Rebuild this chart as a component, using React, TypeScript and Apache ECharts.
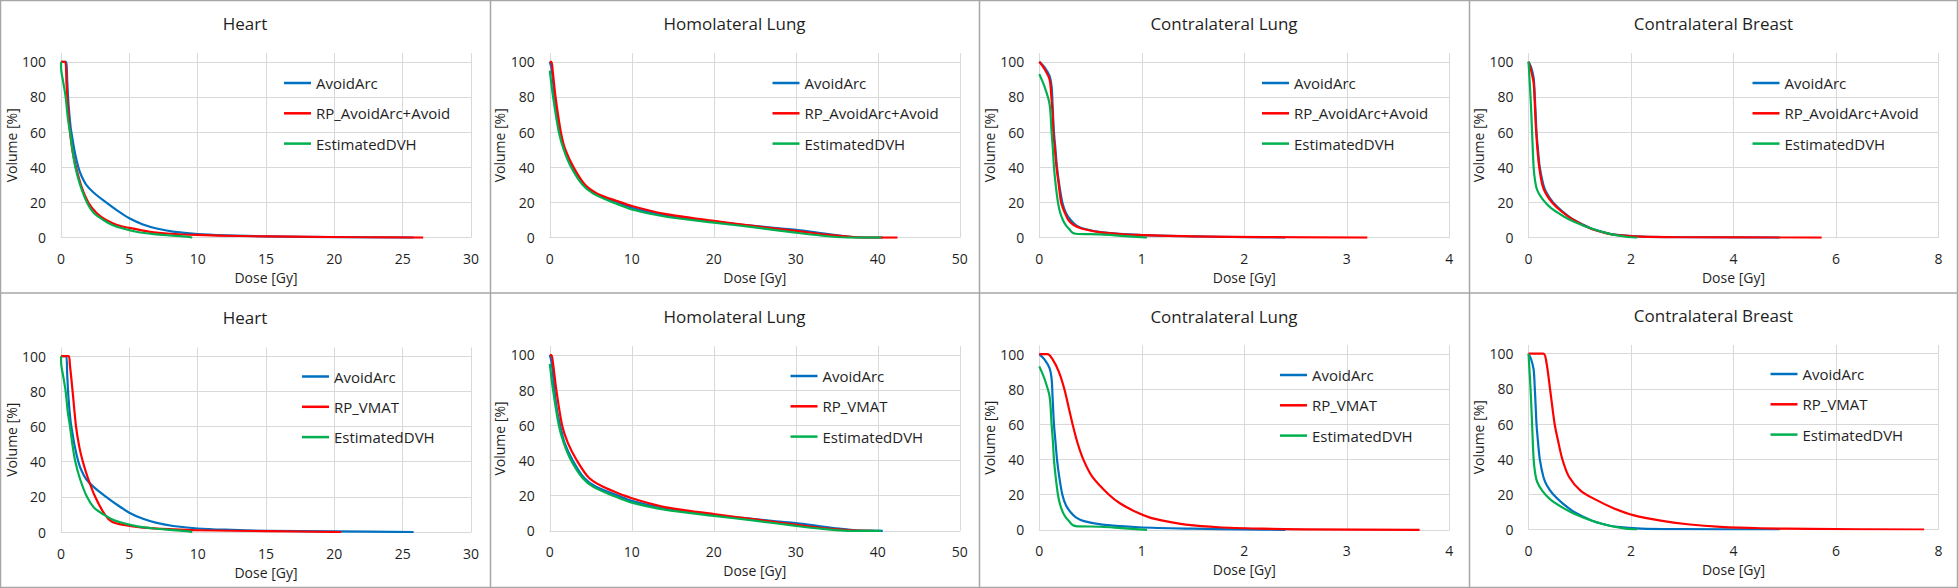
import React, { useEffect, useRef } from "react";
import * as echarts from "echarts";

// ---------- data ----------
const organTitles = ["Heart", "Homolateral Lung", "Contralateral Lung", "Contralateral Breast"];
const doseMax = [30, 50, 4, 8];
const doseStep = [5, 10, 1, 2];
const topNames = ["AvoidArc", "RP_AvoidArc+Avoid", "EstimatedDVH"];
const bottomNames = ["AvoidArc", "RP_VMAT", "EstimatedDVH"];
const xAxisTitle = "Dose [Gy]";
const yAxisTitle = "Volume [%]";

// Heart
const heartAvoidArc = [[0, 100], [0.38, 100], [0.45, 90], [0.55, 76], [0.7, 63], [0.8, 58], [1.0, 49], [1.27, 40], [1.5, 35], [1.85, 30], [2.4, 25.5], [3.3, 20], [4.1, 15.5], [5.0, 11], [6.0, 7.5], [7, 5.2], [8.2, 3.4], [10, 2], [12, 1.3], [15, 0.7], [20, 0.3], [25.8, 0]];
const heartRPAvoid = [[0, 100], [0.3, 100], [0.4, 88], [0.5, 75], [0.66, 60], [0.85, 49], [1.1, 40], [1.5, 29], [2.0, 20], [2.6, 14], [3.3, 10], [4.1, 7.2], [5.0, 5.5], [6.5, 3.3], [8, 2.2], [10, 1.5], [13, 0.9], [17, 0.5], [22, 0.2], [26.5, 0]];
const heartEstimated = [[0, 100], [0.02, 95], [0.15, 89], [0.34, 80], [0.5, 68], [0.66, 60], [0.85, 49], [1.05, 40], [1.4, 30], [1.9, 20], [2.4, 14], [3.1, 10], [3.8, 7], [4.6, 5], [5.6, 3.2], [6.8, 2], [8, 1.2], [9.2, 0.5], [9.6, 0]];
const heartRPVMAT = [[0, 100], [0.55, 100], [0.65, 95], [0.85, 80], [1.1, 60], [1.35, 48], [1.6, 40], [2.0, 30], [2.5, 20], [3.2, 10], [3.7, 6], [4.6, 4], [6, 2.5], [8.2, 1.5], [10, 1], [15, 0.5], [20.5, 0]];

// Homolateral lung
const homoAvoidArc = [[0, 100], [0.25, 95], [0.57, 80], [0.9, 68], [1.26, 60], [1.8, 50], [2.8, 40], [4.2, 30], [5.65, 25], [8.3, 20], [10, 17], [14.2, 12.5], [20, 9], [23.5, 7.3], [27.6, 5.4], [30, 4.4], [31.7, 3.4], [35.3, 1.2], [37.4, 0.2], [40.6, 0]];
const homoRPAvoid = [[0, 100], [0.2, 100], [0.35, 95], [0.7, 80], [1.35, 60], [1.9, 50], [2.9, 40], [4.3, 30], [5.8, 25], [8.4, 20.5], [10, 18], [14, 13.5], [20, 9.5], [25, 6.5], [30, 3.8], [34, 1.5], [37, 0.3], [40, 0], [42.4, 0]];
const homoEstimated = [[0, 95], [0.4, 80], [1.1, 60], [1.7, 50], [2.6, 40], [4, 30], [5.3, 25], [7.7, 20], [10, 16], [14, 12], [20, 8.5], [25, 5.8], [30, 2.8], [33, 1.2], [36.5, 0], [40.4, 0]];
const homoRPVMAT = [[0, 100], [0.2, 100], [0.4, 95], [0.8, 80], [1.5, 60], [2.2, 50], [3.3, 40], [4.8, 30], [6.5, 25], [9.1, 20], [10, 18.5], [14, 13.5], [20, 9.5], [25, 6.5], [30, 3.5], [34, 1.2], [37, 0.2], [39.5, 0]];

// Contralateral lung
const cLungAvoidArc = [[0, 100], [0.05, 97], [0.1, 92], [0.12, 86], [0.13, 75], [0.143, 60], [0.158, 50], [0.173, 40], [0.195, 30], [0.225, 20], [0.26, 14], [0.306, 10], [0.36, 7], [0.436, 5], [0.616, 3], [0.97, 1.5], [1.5, 0.7], [2, 0.3], [2.4, 0]];
const cLungRPAvoid = [[0, 100], [0.05, 96], [0.1, 90], [0.115, 82], [0.13, 70], [0.137, 60], [0.152, 50], [0.168, 40], [0.19, 30], [0.213, 20], [0.25, 14], [0.284, 10], [0.34, 7], [0.42, 5], [0.6, 3], [0.95, 1.5], [1.5, 0.7], [2.2, 0.3], [3.2, 0]];
const cLungEstimated = [[0, 93], [0.05, 86], [0.1, 76], [0.12, 60], [0.133, 50], [0.143, 40], [0.16, 30], [0.182, 20], [0.2, 15], [0.23, 10], [0.26, 7], [0.29, 5], [0.32, 3], [0.355, 2.2], [0.6, 1.8], [0.8, 1], [1.05, 0]];
const cLungRPVMAT = [[0, 100], [0.08, 100], [0.13, 97], [0.19, 90], [0.245, 80], [0.285, 70], [0.325, 60], [0.37, 50], [0.43, 40], [0.52, 30], [0.68, 20], [0.79, 15], [0.95, 10], [1.08, 7], [1.23, 5], [1.43, 3], [1.75, 1.5], [2.18, 0.7], [2.6, 0.3], [3.71, 0]];

// Contralateral breast
const breastAvoidArc = [[0, 100], [0.05, 97], [0.1, 91], [0.12, 82], [0.14, 70], [0.156, 60], [0.185, 50], [0.22, 40], [0.29, 30], [0.36, 25], [0.48, 20], [0.66, 15], [0.89, 10], [1.24, 5], [1.47, 3], [1.73, 1.5], [2.2, 0.5], [3, 0.2], [4.9, 0]];
const breastRPAvoid = [[0, 100], [0.05, 95], [0.1, 88], [0.12, 78], [0.14, 65], [0.15, 60], [0.175, 50], [0.21, 40], [0.27, 30], [0.34, 25], [0.46, 20], [0.64, 15], [0.88, 10], [1.22, 5], [1.45, 3], [1.7, 1.5], [2.2, 0.5], [3, 0.2], [5.72, 0]];
const breastEstimated = [[0, 100], [0.04, 80], [0.07, 60], [0.1, 40], [0.13, 32], [0.17, 27], [0.27, 22], [0.43, 17], [0.69, 12], [0.89, 9], [1.24, 5], [1.6, 2], [1.9, 0.5], [2.12, 0]];
const breastRPVMAT = [[0, 100], [0.29, 100], [0.35, 95], [0.42, 80], [0.51, 60], [0.58, 50], [0.66, 40], [0.79, 30], [1.02, 22], [1.31, 17], [1.67, 12], [2.06, 8], [2.58, 5], [3.1, 3], [3.75, 1.5], [4.53, 0.7], [5.5, 0.3], [7.72, 0]];

const avoidArcByOrgan = [heartAvoidArc, homoAvoidArc, cLungAvoidArc, breastAvoidArc];
const rpAvoidByOrgan = [heartRPAvoid, homoRPAvoid, cLungRPAvoid, breastRPAvoid];
const rpVmatByOrgan = [heartRPVMAT, homoRPVMAT, cLungRPVMAT, breastRPVMAT];
const estimatedByOrgan = [heartEstimated, homoEstimated, cLungEstimated, breastEstimated];

const colors = ["#0070C0", "#FF0000", "#00B050"];

// ---------- layout ----------
const PW = 1958 / 4;
const PH = 294;
const gridLeftRel = [61, 60.3, 60.3, 60];
const gridTopRel = [[53, 53, 53, 53], [53.4, 52.2, 51.3, 50.9]];
const legendLeftRel = [[284, 283, 283, 284], [302, 301, 301, 302]];
const legendTopRel = [[74, 74, 74, 74], [73.5, 73, 72, 71]];
const titleTopRel = [[15, 15, 15, 15], [14.5, 14, 13.5, 13]];
const FONT = "Open Sans";
const TEXT = "#1f1f1f";
const GRIDC = "#d9d9d9";

function buildOption() {
  const grid: any[] = [];
  const xAxis: any[] = [];
  const yAxis: any[] = [];
  const series: any[] = [];
  const legend: any[] = [];
  const title: any[] = [];
  const graphic: any[] = [];

  for (let r = 0; r < 2; r++) {
    for (let c = 0; c < 4; c++) {
      const i = r * 4 + c;
      const ox = c * PW;
      const oy = r * PH;
      const names = r === 0 ? topNames : bottomNames;
      grid.push({ left: ox + gridLeftRel[c], top: oy + gridTopRel[r][c], width: 410, height: 184.6, containLabel: false });
      xAxis.push({
        type: "value", gridIndex: i, min: 0, max: doseMax[c], interval: doseStep[c],
        name: xAxisTitle, nameLocation: "middle", nameGap: 33,
        nameTextStyle: { fontFamily: FONT, fontSize: 14, color: TEXT },
        axisLine: { show: true, lineStyle: { color: GRIDC, width: 1 } },
        axisTick: { show: false },
        axisLabel: { fontFamily: FONT, fontSize: 14, color: TEXT, margin: 14 },
        splitLine: { show: true, lineStyle: { color: GRIDC, width: 1 } },
      });
      yAxis.push({
        type: "value", gridIndex: i, min: 0, max: 105, interval: 20,
        name: yAxisTitle, nameLocation: "middle", nameGap: 38,
        nameTextStyle: { fontFamily: FONT, fontSize: 14, color: TEXT },
        axisLine: { show: false },
        axisTick: { show: false },
        axisLabel: { fontFamily: FONT, fontSize: 14, color: TEXT, margin: 15, showMaxLabel: false },
        splitLine: { show: true, showMaxLine: false, lineStyle: { color: GRIDC, width: 1 } },
      });
      const datasets = [avoidArcByOrgan[c], r === 0 ? rpAvoidByOrgan[c] : rpVmatByOrgan[c], estimatedByOrgan[c]];
      for (let k = 0; k < 3; k++) {
        series.push({
          type: "line", name: names[k], xAxisIndex: i, yAxisIndex: i,
          data: datasets[k], showSymbol: false, symbol: "none",
          smooth: 0.3,
          lineStyle: { color: colors[k], width: 2.2, join: "round" },
          itemStyle: { color: colors[k] },
          z: 2 + k,
        });
      }
      legend.push({
        data: names, orient: "vertical", left: ox + legendLeftRel[r][c], top: oy + legendTopRel[r][c],
        icon: "rect", itemWidth: 27, itemHeight: 2.5, itemGap: 12.3, padding: 0,
        textStyle: { fontFamily: FONT, fontSize: 15, color: TEXT, lineHeight: 18 },
        selectedMode: false,
      });
      title.push({
        text: organTitles[c], left: ox + 245, top: oy + titleTopRel[r][c], textAlign: "center", padding: 0,
        textStyle: { fontFamily: FONT, fontSize: 17, fontWeight: "normal", color: TEXT },
      });
    }
  }
  const bc = "#a6a6a6";
  graphic.push({ type: "rect", shape: { x: 0.5, y: 0.5, width: 1957, height: 587 }, style: { fill: "none", stroke: bc, lineWidth: 1.5 }, silent: true });
  for (let c = 1; c < 4; c++) {
    graphic.push({ type: "line", shape: { x1: Math.round(c * PW) + 0.5, y1: 0, x2: Math.round(c * PW) + 0.5, y2: 588 }, style: { stroke: bc, lineWidth: 1.5 }, silent: true });
  }
  graphic.push({ type: "line", shape: { x1: 0, y1: 293, x2: 1958, y2: 293 }, style: { stroke: bc, lineWidth: 1.5 }, silent: true });

  return { animation: false, backgroundColor: "#ffffff", grid, xAxis, yAxis, series, legend, title, graphic };
}

export default function App() {
  const ref = useRef<HTMLDivElement>(null);
  useEffect(() => {
    if (!ref.current) return;
    const chart = echarts.init(ref.current, undefined, { renderer: "svg" });
    chart.setOption(buildOption());
    return () => chart.dispose();
  }, []);
  return <div ref={ref} style={{ position: "absolute", left: 0, top: 0, width: 1958, height: 588, background: "#fff" }} />;
}
